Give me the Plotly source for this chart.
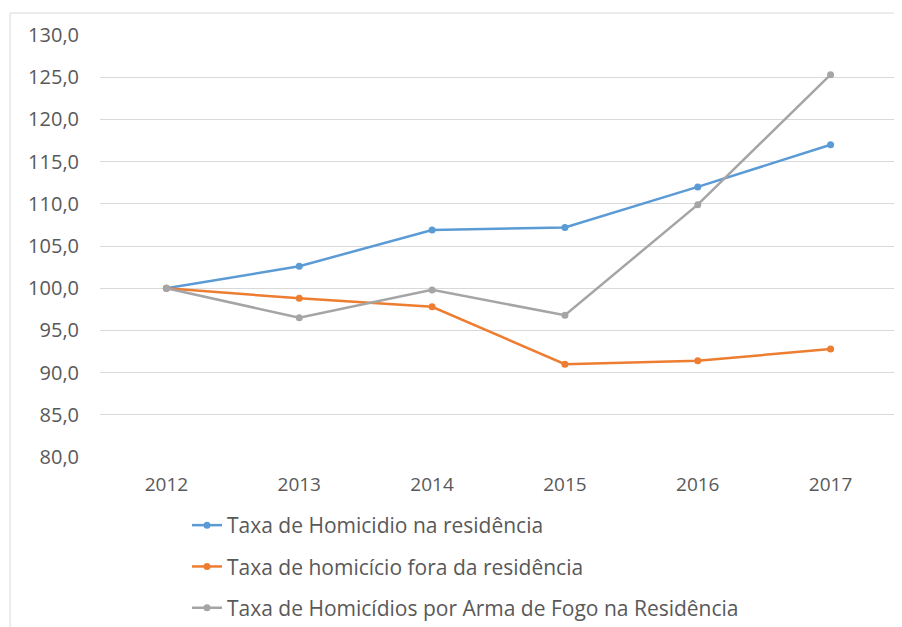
import plotly.graph_objects as go

years = ["2012", "2013", "2014", "2015", "2016", "2017"]
homicidio_residencia = [100.0, 102.6, 106.9, 107.2, 112.0, 117.0]
homicidio_fora = [100.0, 98.8, 97.8, 91.0, 91.4, 92.8]
arma_fogo_residencia = [100.0, 96.5, 99.8, 96.8, 109.9, 125.3]

names = [
    "Taxa de Homicidio na residência",
    "Taxa de homicício fora da residência",
    "Taxa de Homicídios por Arma de Fogo na Residência",
]
colors = ["#5B9BD5", "#ED7D31", "#A5A5A5"]
series = [homicidio_residencia, homicidio_fora, arma_fogo_residencia]
y_ticks = [80, 85, 90, 95, 100, 105, 110, 115, 120, 125, 130]
y_tick_labels = [f"{v:.1f}".replace(".", ",") for v in y_ticks]

fig = go.Figure()
for i, (n, c, s) in enumerate(zip(names, colors, series)):
    fig.add_trace(go.Scatter(
        x=years, y=s, name=n, mode="lines+markers",
        line=dict(color=c, width=2.5),
        marker=dict(color=c, size=7, symbol="circle"),
        legendgroup=str(i),
    ))

OFF = 8  # page offset of the figure inside the browser window
W, H = 902, 627
L, R, T, B = 100 - OFF, 13, 35 - OFF, 627 - (457 - OFF)
pw = W - L - R
ph = H - T - B

def px2paper_x(px):
    return (px - OFF - L) / pw

def px2paper_y(py):
    return (H - B - (py - OFF)) / ph

fig.add_shape(type="line", xref="paper", yref="paper",
              x0=px2paper_x(10), x1=px2paper_x(10),
              y0=px2paper_y(13), y1=px2paper_y(640),
              line=dict(color="#d9d9d9", width=1))
fig.add_shape(type="line", xref="paper", yref="paper",
              x0=px2paper_x(10), x1=px2paper_x(910),
              y0=px2paper_y(13), y1=px2paper_y(13),
              line=dict(color="#d9d9d9", width=1))

fig.update_layout(
    width=W, height=H,
    margin=dict(l=L, r=R, t=T, b=B, autoexpand=False),
    paper_bgcolor="white", plot_bgcolor="white",
    font=dict(family="Open Sans", color="#595959", size=18),
    showlegend=True,
    legend=dict(
        x=px2paper_x(187), xanchor="left",
        y=px2paper_y(505), yanchor="top",
        font=dict(size=21, color="#595959"),
        traceorder="grouped", tracegroupgap=11,
        bgcolor="rgba(0,0,0,0)",
    ),
)
fig.update_xaxes(
    type="category", range=[-0.5, 5.5],
    showgrid=False, showline=False, zeroline=False,
    ticks="outside", ticklen=10, tickcolor="rgba(0,0,0,0)",
    tickfont=dict(size=19, color="#595959"),
)
fig.update_yaxes(
    range=[80, 130], tickvals=y_ticks, ticktext=y_tick_labels,
    showgrid=True, gridcolor="#d9d9d9", gridwidth=1,
    zeroline=False, showline=False,
    ticks="outside", ticklen=16, tickcolor="rgba(0,0,0,0)",
    tickfont=dict(size=20, color="#595959"),
)

fig.write_html("out.html")
